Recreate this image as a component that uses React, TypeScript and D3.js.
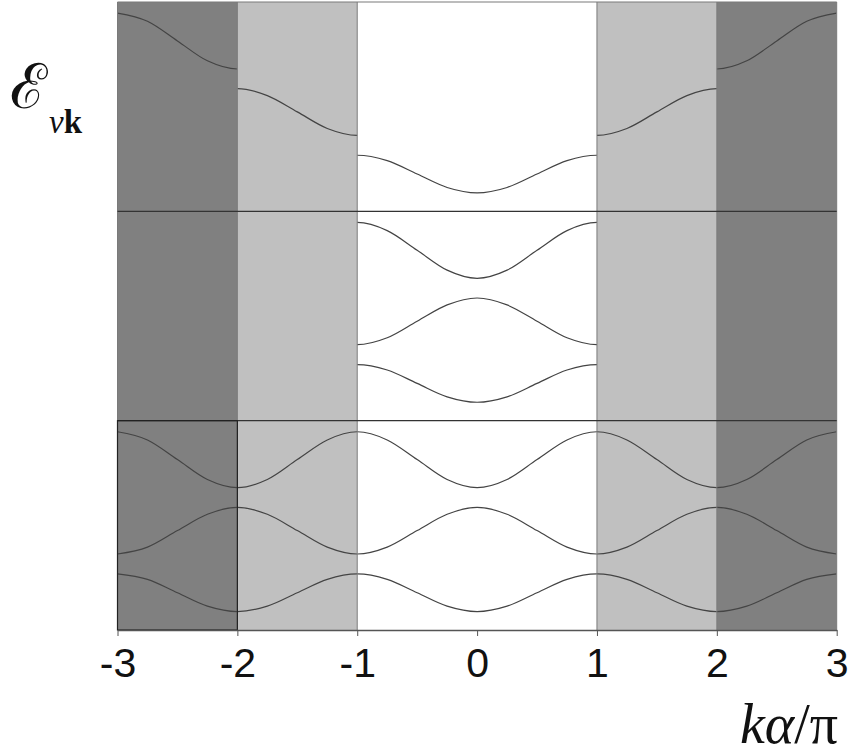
import React, { useEffect, useRef } from 'react';
import * as d3 from 'd3';

// k-samples of the reduced zone (k*a/pi) and the three bands read at those points
const kSamples = [0, 0.25, 0.5, 0.75, 1];
const band1 = [0.088, 0.114, 0.178, 0.242, 0.268];
const band2 = [0.586, 0.553, 0.475, 0.396, 0.363];
const band3 = [0.68, 0.719, 0.814, 0.908, 0.947];
const bands = [band1, band2, band3];

// panels from bottom to top: periodic, reduced and extended zone schemes
const panelNames = ['periodic', 'reduced', 'extended'];
const panelOffsets = [0, 1, 2];

const xTicks = [-3, -2, -1, 0, 1, 2, 3];
const zoneEdges = [-2, -1, 1, 2];

const App = () => {
    const chartRef = useRef<SVGSVGElement>(null);

    useEffect(() => {
        if (chartRef.current) {
            drawChart();
        }
    }, []);

    const drawChart = () => {
        const svg = d3.select(chartRef.current);
        svg.selectAll('*').remove();

        const x = d3.scaleLinear().domain([-3, 3]).range([117.5, 836.7]);
        const y = d3.scaleLinear().domain([0, 3]).range([630, 2]);

        // background zones
        const zones = [
            { from: -3, to: -2, fill: '#808080' },
            { from: -2, to: -1, fill: '#c0c0c0' },
            { from: -1, to: 1, fill: '#ffffff' },
            { from: 1, to: 2, fill: '#c0c0c0' },
            { from: 2, to: 3, fill: '#808080' },
        ];
        svg.append('g')
            .selectAll('rect')
            .data(zones)
            .enter()
            .append('rect')
            .attr('x', d => x(d.from))
            .attr('y', y(3))
            .attr('width', d => x(d.to) - x(d.from))
            .attr('height', y(0) - y(3))
            .attr('fill', d => d.fill);

        // band curve repeated over the whole k range (periodic zone)
        const step = kSamples[1] - kSamples[0];
        const kGrid = d3.range(-3, 3 + step / 2, step);
        const periodic = (band: number[]) =>
            kGrid.map(k => {
                let kr = Math.abs(k) % 2;
                if (kr > 1) kr = 2 - kr;
                return [k, band[Math.round(kr / step)]] as [number, number];
            });

        const defs = svg.append('defs');
        let clipId = 0;
        const clipFor = (intervals: number[][], offset: number) => {
            const id = 'clip' + clipId++;
            const cp = defs.append('clipPath').attr('id', id);
            intervals.forEach(([a, b]) => {
                cp.append('rect')
                    .attr('x', x(a))
                    .attr('y', y(offset + 1))
                    .attr('width', x(b) - x(a))
                    .attr('height', y(offset) - y(offset + 1));
            });
            return id;
        };

        const curves = svg.append('g');
        panelNames.forEach((name, p) => {
            const offset = panelOffsets[p];
            const line = d3.line<[number, number]>()
                .x(d => x(d[0]))
                .y(d => y(d[1] + offset))
                .curve(d3.curveMonotoneX);
            bands.forEach((band, i) => {
                let intervals: number[][];
                if (name === 'periodic') intervals = [[-3, 3]];
                else if (name === 'reduced') intervals = [[-1, 1]];
                else intervals = [[i, i + 1], [-(i + 1), -i]];
                const id = clipFor(intervals, offset);
                curves.append('path')
                    .attr('d', line(periodic(band)))
                    .attr('clip-path', `url(#${id})`)
                    .attr('fill', 'none')
                    .attr('stroke', '#444')
                    .attr('stroke-width', 1.2);
            });
        });

        // zone boundaries
        svg.append('g')
            .selectAll('line')
            .data(zoneEdges.concat([-3, 3]))
            .enter()
            .append('line')
            .attr('x1', d => x(d))
            .attr('x2', d => x(d))
            .attr('y1', y(3))
            .attr('y2', y(0))
            .attr('stroke', '#7a7a7a')
            .attr('stroke-width', 1);

        svg.append('line')
            .attr('x1', x(-3)).attr('x2', x(3))
            .attr('y1', y(3)).attr('y2', y(3))
            .attr('stroke', '#7a7a7a')
            .attr('stroke-width', 1.2);

        // panel separators
        svg.append('g')
            .selectAll('line')
            .data([1, 2])
            .enter()
            .append('line')
            .attr('x1', x(-3))
            .attr('x2', x(3))
            .attr('y1', d => y(d))
            .attr('y2', d => y(d))
            .attr('stroke', '#333')
            .attr('stroke-width', 1.2);

        // unit cell outline
        svg.append('rect')
            .attr('x', x(-3))
            .attr('y', y(1))
            .attr('width', x(-2) - x(-3))
            .attr('height', y(0) - y(1))
            .attr('fill', 'none')
            .attr('stroke', '#222')
            .attr('stroke-width', 1.2);

        // x axis
        const axis = svg.append('g')
            .attr('transform', `translate(0, ${y(0)})`)
            .call(
                d3.axisBottom(x)
                    .tickValues(xTicks)
                    .tickSize(6)
                    .tickPadding(12)
                    .tickSizeOuter(0)
                    .tickFormat(d => String(d))
            );
        axis.select('.domain').attr('stroke', '#555').attr('stroke-width', 1.5);
        axis.selectAll('.tick line').attr('stroke', '#555');
        axis.selectAll('.tick text')
            .attr('font-family', '"Liberation Sans", Arial, sans-serif')
            .attr('font-size', 41)
            .attr('fill', '#111');

        // axis labels
        const xl = svg.append('text')
            .attr('x', 838)
            .attr('y', 743)
            .attr('text-anchor', 'end')
            .attr('font-family', '"Liberation Serif", "Times New Roman", serif')
            .attr('font-size', 56)
            .attr('fill', '#111');
        xl.append('tspan').attr('font-style', 'italic').text('kα');
        xl.append('tspan').text('/π');

        const yl = svg.append('text')
            .attr('x', 10)
            .attr('y', 108)
            .attr('font-family', '"DejaVu Serif", "Liberation Serif", serif')
            .attr('fill', '#111');
        yl.append('tspan').attr('font-size', 62).text('ℰ');
        const sub = yl.append('tspan')
            .attr('font-family', '"Liberation Serif", serif')
            .attr('font-size', 33)
            .attr('dx', 2)
            .attr('dy', 25);
        sub.append('tspan').attr('font-style', 'italic').text('ν');
        sub.append('tspan').attr('font-weight', 'bold').text('k');
    };

    return (
        <svg
            ref={chartRef}
            width="850"
            height="755"
            style={{ position: 'absolute', left: 0, top: 0, background: '#fff' }}
        />
    );
};

export default App;
